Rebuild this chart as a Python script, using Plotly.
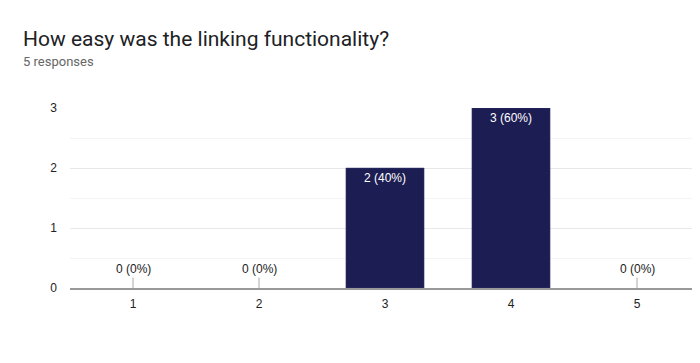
import plotly.graph_objects as go

categories = ["1", "2", "3", "4", "5"]
counts = [0, 0, 2, 3, 0]
title_text = "How easy was the linking functionality?"
subtitle_text = "5 responses"

total = sum(counts)
labels = [f"{c} ({round(100 * c / total)}%)" for c in counts]

# page body has 8px default margin; compensate so figure content lands as in reference
OFF = 8
W, H = 700 - OFF, 363 - OFF
L, T, B = 70 - OFF, 108 - OFF, 75
PW, PH = W - L, H - T - B

fig = go.Figure()
fig.add_trace(go.Bar(
    x=categories,
    y=counts,
    text=[l if c > 0 else "" for l, c in zip(labels, counts)],
    textposition="inside",
    insidetextanchor="end",
    textangle=0,
    textfont=dict(color="white", size=12, family="Liberation Sans, Arial"),
    marker=dict(color="#1c1d52",
                line=dict(color="#3a3c70", width=[0.5 if c > 0 else 0 for c in counts])),
    width=0.62,
    hoverinfo="skip",
))

for i, (c, l) in enumerate(zip(counts, labels)):
    if c == 0:
        fig.add_annotation(
            x=i, y=0, xref="x", yref="y",
            text=l, showarrow=True, arrowhead=0, arrowwidth=1,
            arrowcolor="#aaaaaa", ax=0, ay=-19,
            font=dict(size=12, color="#222222", family="Liberation Sans, Arial"),
        )

fig.add_annotation(
    x=(21 - 70) / PW, y=(288 - 61) / PH, xref="paper", yref="paper",
    xanchor="left", yanchor="middle", showarrow=False,
    text=subtitle_text,
    font=dict(size=13, color="#666666", family="Roboto, Liberation Sans"),
)

fig.update_layout(
    width=W, height=H,
    margin=dict(l=L, r=0, t=T, b=B, autoexpand=False),
    paper_bgcolor="white", plot_bgcolor="white",
    showlegend=False,
    title=dict(
        text=title_text, x=(23 - OFF) / W, xanchor="left", xref="container",
        y=1 - (39 - OFF) / H, yanchor="middle", yref="container",
        font=dict(size=21, color="#202124", family="Roboto, Liberation Sans"),
    ),
    xaxis=dict(
        type="category", range=[-0.5, 4.5], showgrid=False, showline=True,
        linecolor="#999999", linewidth=1.5, ticks="", zeroline=False,
        tickfont=dict(size=12, color="#222222", family="Liberation Sans, Arial"),
        ticklabelstandoff=4,
    ),
    yaxis=dict(
        range=[0, 3], tickvals=[0, 1, 2, 3], showgrid=True, gridcolor="#e8e8e8",
        zeroline=False, showline=False, ticks="",
        minor=dict(tickvals=[0.5, 1.5, 2.5], showgrid=True, gridcolor="#f4f4f4"),
        tickfont=dict(size=12, color="#222222", family="Liberation Sans, Arial"),
        ticklabelstandoff=12,
    ),
    bargap=0.38,
)

fig.write_html("out.html")
